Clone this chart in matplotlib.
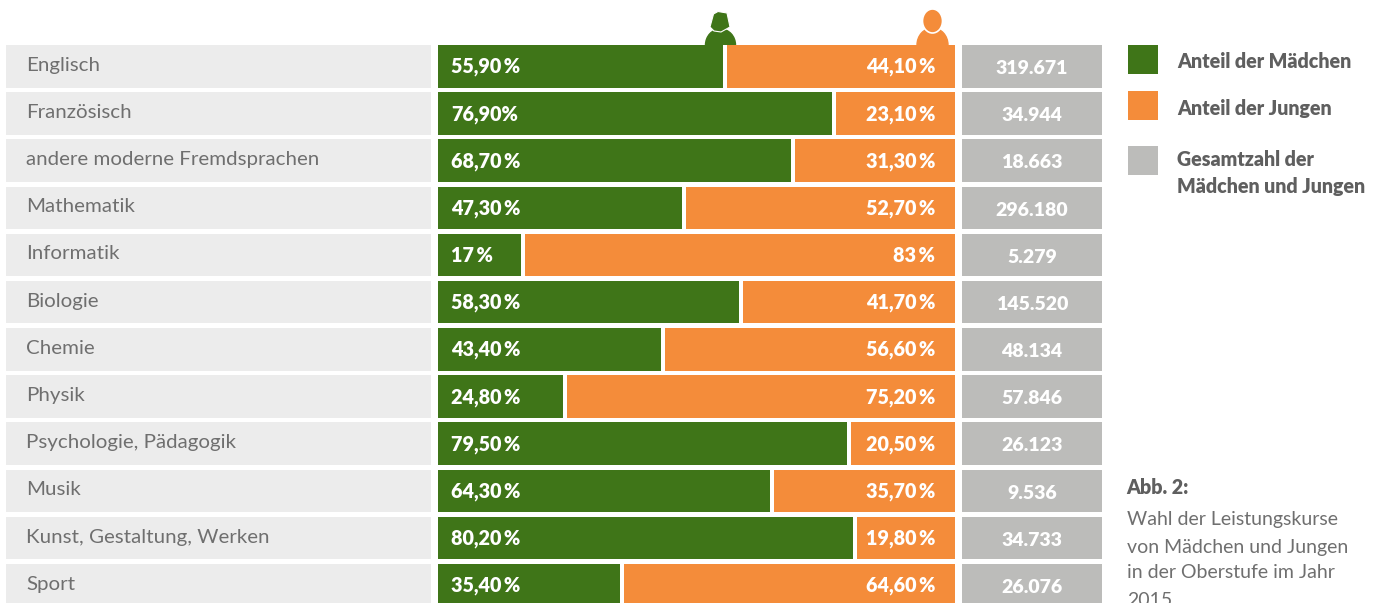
import matplotlib
matplotlib.use('Agg')
import matplotlib.pyplot as plt
from matplotlib.patches import Ellipse, Polygon, Rectangle

faecher = ['Englisch', 'Französisch', 'andere moderne Fremdsprachen', 'Mathematik', 'Informatik',
           'Biologie', 'Chemie', 'Physik', 'Psychologie, Pädagogik', 'Musik',
           'Kunst, Gestaltung, Werken', 'Sport']
# Balkenlaengen, weichen leicht von den Beschriftungen ab
maedchen = [55.9, 77.0, 69.0, 47.9, 16.8, 58.9, 43.9, 24.9, 79.9, 64.9, 81.0, 35.9]
jungen = [44.1, 23.0, 31.0, 52.1, 83.2, 41.1, 56.1, 75.1, 20.1, 35.1, 19.0, 64.1]
maedchen_text = ['55,90\u2009%', '76,90%', '68,70\u2009%', '47,30\u2009%', '17\u2009%', '58,30\u2009%',
                 '43,40\u2009%', '24,80\u2009%', '79,50\u2009%', '64,30\u2009%', '80,20\u2009%', '35,40\u2009%']
jungen_text = ['44,10\u2009%', '23,10\u2009%', '31,30\u2009%', '52,70\u2009%', '83\u2009%', '41,70\u2009%',
               '56,60\u2009%', '75,20\u2009%', '20,50\u2009%', '35,70\u2009%', '19,80\u2009%', '64,60\u2009%']
gesamt_text = ['319.671', '34.944', '18.663', '296.180', '5.279', '145.520', '48.134', '57.846',
               '26.123', '9.536', '34.733', '26.076']

GRUEN = '#3f7518'
ORANGE = '#f48c3a'
GRAU = '#bcbcba'
HELL = '#ececec'
SCHRIFT = '#6f6f6f'
BREITE, HOEHE = 1381, 603
ZEILE = 47.18
BALKEN = 42.5 / ZEILE
OBEN = -(45 + 21.25) / ZEILE
UNTEN = (HOEHE - 66.25) / ZEILE

plt.rcParams['font.family'] = ['Lato', 'DejaVu Sans']
fig = plt.figure(figsize=(BREITE / 100, HOEHE / 100), dpi=100, facecolor='white')


def spalte(x0, x1, xlim):
    ax = fig.add_axes([x0 / BREITE, 0, (x1 - x0) / BREITE, 1], zorder=2)
    ax.set_xlim(*xlim)
    ax.set_ylim(UNTEN, OBEN)
    ax.axis('off')
    return ax


# Hintergrund in Pixeln, fuer Icons und Legende
px = fig.add_axes([0, 0, 1, 1], zorder=1)
px.set_xlim(0, BREITE)
px.set_ylim(HOEHE, 0)
px.axis('off')

zeilen = list(range(len(faecher)))

ax_label = spalte(6, 431, (0, 425))
ax_label.barh(zeilen, [425] * len(zeilen), height=BALKEN, color=HELL)
for i, name in enumerate(faecher):
    ax_label.text(20, i + 0.095, name, color=SCHRIFT, fontsize=14.75, va='baseline', ha='left')

ax_bar = spalte(438, 955, (0, 100))
luecke = 4 / 517 * 100
ax_bar.barh(zeilen, maedchen, height=BALKEN, color=GRUEN)
ax_bar.barh(zeilen, jungen, left=maedchen, height=BALKEN, color=ORANGE)
ax_bar.barh(zeilen, [luecke] * len(zeilen), left=[m - luecke for m in maedchen], height=BALKEN, color='white')
for i in zeilen:
    ax_bar.text(13 / 517 * 100, i + 0.14, maedchen_text[i], color='white', fontsize=14.2,
                fontweight='heavy', va='baseline', ha='left')
    ax_bar.text(100 - 20 / 517 * 100, i + 0.14, jungen_text[i], color='white', fontsize=14.2,
                fontweight='heavy', va='baseline', ha='right')

ax_ges = spalte(962, 1102, (0, 140))
ax_ges.barh(zeilen, [140] * len(zeilen), height=BALKEN, color=GRAU)
for i in zeilen:
    ax_ges.text(70, i + 0.165, gesamt_text[i], color='white', fontsize=14.0, fontweight='heavy',
                va='baseline', ha='center')

# Icons, der untere Teil liegt hinter den Balken
px.add_patch(Ellipse((720.5, 45), 30, 32, color=GRUEN))
px.add_patch(Polygon([(710, 27), (713.5, 14), (718, 11.5), (727, 13), (730, 27), (721, 32), (714, 31)],
                     closed=True, facecolor=GRUEN, edgecolor='white', linewidth=0.8))
px.add_patch(Ellipse((932.5, 45), 31, 34, color=ORANGE))
px.add_patch(Ellipse((932.5, 21), 20, 24, facecolor=ORANGE, edgecolor='white', linewidth=1.2))

# Legende
for y, farbe in zip([45, 91, 146], [GRUEN, ORANGE, GRAU]):
    px.add_patch(Rectangle((1128, y), 30, 29, color=farbe, linewidth=0))
fett = dict(color='#5f5f5f', fontsize=14.1, fontweight='heavy', va='center', ha='left')
px.text(1177, 62, 'Anteil der Mädchen', **fett)
px.text(1177, 109, 'Anteil der Jungen', **fett)
px.text(1177, 160, 'Gesamtzahl der', **fett)
px.text(1177, 186, 'Mädchen und Jungen', **fett)

px.text(1126, 488, 'Abb. 2:', **fett)
for y, zeile in zip([520, 547, 573, 600], ['Wahl der Leistungskurse', 'von Mädchen und Jungen',
                                           'in der Oberstufe im Jahr', '2015']):
    px.text(1127, y, zeile, color=SCHRIFT, fontsize=14.0, va='center', ha='left')

fig.savefig('out.png', dpi=100)
